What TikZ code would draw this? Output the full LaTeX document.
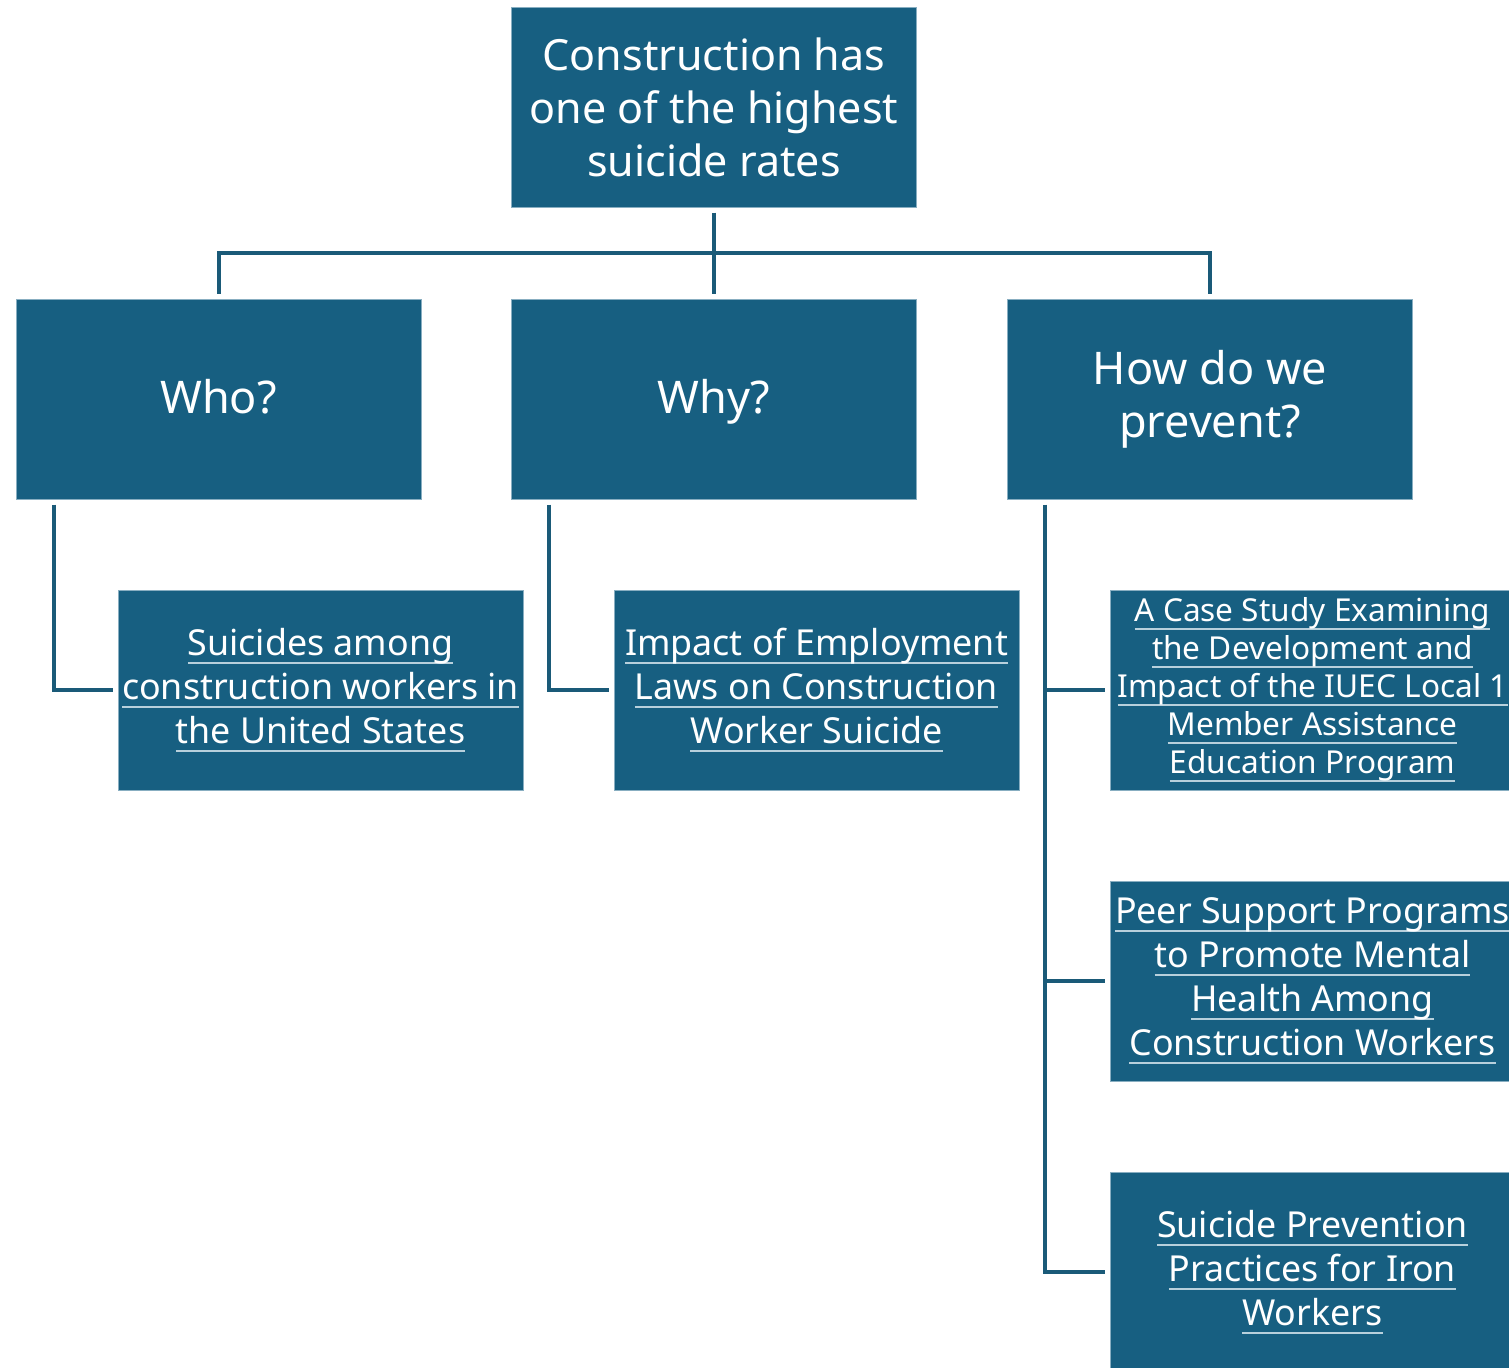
\documentclass[tikz,border=0pt]{standalone}
\usepackage{fontspec}
\setmainfont{Noto Sans}
\definecolor{boxc}{HTML}{175F81}
\definecolor{linec}{HTML}{1A5A78}
\definecolor{ulc}{HTML}{B8D0DC}
\newcommand\myul[1]{\setbox0\hbox{#1}\rlap{\textcolor{ulc}{\rule[-4.2pt]{\wd0}{0.9pt}}}\box0}
\tikzset{
  box/.style={fill=boxc, draw=ulc!70!boxc, line width=0.5pt, text=white, minimum width=202.5pt, minimum height=100pt, inner sep=0pt, align=center},
  toptext/.style={font=\fontsize{21.5}{26.5}\selectfont},
  bigtext/.style={font=\fontsize{22.5}{26.5}\selectfont},
  subtext/.style={font=\fontsize{17.9}{22}\selectfont},
  smalltext/.style={font=\fontsize{15.8}{19}\selectfont},
  conn/.style={draw=linec, line width=2pt}
}
\begin{document}
\begin{tikzpicture}[x=0.5pt,y=-0.5pt]
\useasboundingbox (0,0) rectangle (1509,1367);
\clip (0,0) rectangle (1509,1367);
\node[box,toptext] (top) at (714,107) {Construction has\\one of the highest\\suicide rates};
\node[box,bigtext,text height=17.5pt,text depth=3.5pt] (who) at (218.5,399) {Who?};
\node[box,bigtext,text height=17.5pt,text depth=3.5pt] (why) at (714,399) {Why?};
\node[box,bigtext] (how) at (1210,399) {How do we\\prevent?};
\node[box,subtext] (s1) at (320.5,690) {\myul{Suicides among}\\\myul{construction workers in}\\\myul{the United States}};
\node[box,subtext] (s2) at (816.5,690) {\myul{Impact of Employment}\\\myul{Laws on Construction}\\\myul{Worker Suicide}};
\node[box,smalltext] (s3) at (1312.5,690) {\myul{A Case Study Examining}\\\myul{the Development and}\\\myul{Impact of the IUEC Local 1}\\\myul{Member Assistance}\\\myul{Education Program}};
\node[box,subtext] (s4) at (1312.5,981) {\myul{Peer Support Programs}\\\myul{to Promote Mental}\\\myul{Health Among}\\\myul{Construction Workers}};
\node[box,subtext] (s5) at (1312.5,1272) {\myul{Suicide Prevention}\\\myul{Practices for Iron}\\\myul{Workers}};
% top tree
\coordinate (hub) at (714,253);
\draw[conn, shorten <=2.5pt] (top.south) -- (hub);
\draw[conn, shorten <=2.5pt, shorten >=2.5pt] (who.north) -- (who.north |- hub) -- (how.north |- hub) -- (how.north);
\draw[conn, shorten >=2.5pt] (hub) -- (why.north);
% branches
\coordinate (whotr) at ([xshift=19pt]who.south west);
\draw[conn, shorten <=2.5pt, shorten >=2.5pt] (whotr) |- (s1.west);
\coordinate (whytr) at ([xshift=19pt]why.south west);
\draw[conn, shorten <=2.5pt, shorten >=2.5pt] (whytr) |- (s2.west);
\coordinate (howtr) at ([xshift=19pt]how.south west);
\draw[conn, shorten <=2.5pt, shorten >=2.5pt] (howtr) |- (s5.west);
\draw[conn, shorten <=2.5pt] (s3.west) -- (s3.west -| howtr);
\draw[conn, shorten <=2.5pt] (s4.west) -- (s4.west -| howtr);
\end{tikzpicture}
\end{document}
